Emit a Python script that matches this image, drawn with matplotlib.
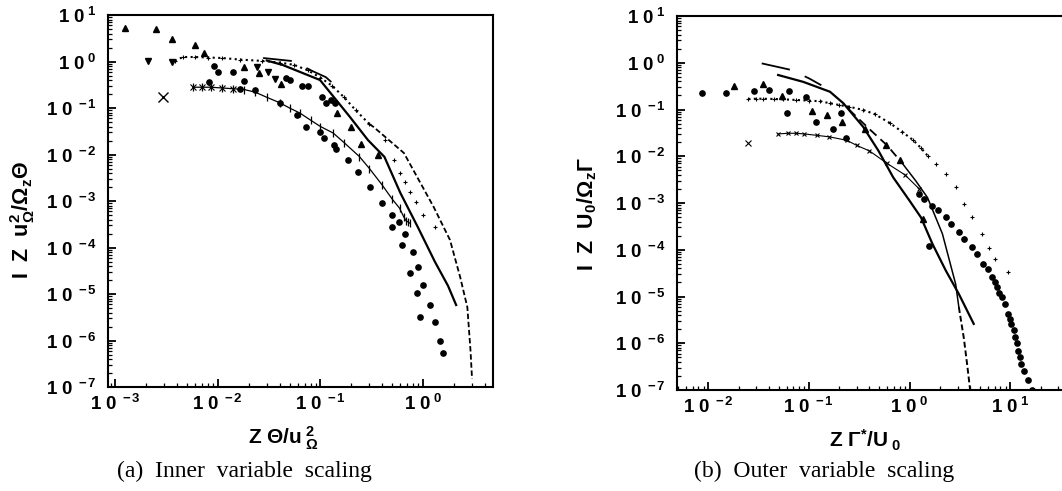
import matplotlib
matplotlib.use("Agg")
import matplotlib.pyplot as plt
from matplotlib.ticker import LogLocator, FuncFormatter, NullFormatter

plt.rcParams["mathtext.fontset"] = "custom"
plt.rcParams["mathtext.rm"] = "Liberation Sans"
plt.rcParams["mathtext.bf"] = "Liberation Sans:bold"
plt.rcParams["mathtext.it"] = "Liberation Sans:italic"
plt.rcParams["font.family"] = ["Liberation Sans", "DejaVu Sans"]

# ---------------- (a) inner variable scaling ----------------
a_tri_up_x = [1.25e-3, 2.5e-3, 3.6e-3, 6.0e-3, 7.4e-3, 0.018, 0.025, 0.041, 0.145, 0.20, 0.25, 0.36]
a_tri_up_y = [5.2, 5.0, 3.0, 2.3, 1.55, 0.76, 0.57, 0.33, 0.078, 0.039, 0.017, 0.0098]
a_tri_dn_x = [2.1e-3, 3.6e-3, 0.024, 0.031, 0.036]
a_tri_dn_y = [1.03, 1.0, 0.76, 0.59, 0.42]
a_circ_x = [8.2e-3, 9.2e-3, 0.010, 0.014, 0.018, 0.046, 0.051, 0.066, 0.076, 0.104, 0.114, 0.128, 0.139]
a_circ_y = [0.36, 0.80, 0.59, 0.59, 0.38, 0.44, 0.40, 0.30, 0.30, 0.17, 0.13, 0.15, 0.13]
a_colA_x = [0.0165, 0.023, 0.040, 0.059, 0.072, 0.099, 0.108, 0.136, 0.142, 0.186, 0.232,
            0.304, 0.398, 0.498, 0.624, 0.745, 0.873, 0.93]
a_colA_y = [0.256, 0.245, 0.128, 0.071, 0.039, 0.031, 0.023, 0.016, 0.0131, 7.6e-3, 4.2e-3,
            2.0e-3, 9.1e-4, 2.8e-4, 1.13e-4, 2.8e-5, 1.05e-5, 3.2e-6]
a_colB_x = [0.50, 0.58, 0.667, 0.80, 0.89, 1.0, 1.17, 1.3, 1.45, 1.55]
a_colB_y = [5.0e-4, 3.5e-4, 2.0e-4, 8.0e-5, 3.8e-5, 1.6e-5, 5.9e-6, 2.5e-6, 1.0e-6, 5.4e-7]
a_xiso_x = [2.9e-3]
a_xiso_y = [0.17]
a_xline_x = [5.7e-3, 7e-3, 8.5e-3, 0.011, 0.014, 0.018, 0.023, 0.030, 0.04, 0.05, 0.063, 0.08,
             0.1, 0.133, 0.17, 0.24, 0.3, 0.4, 0.5, 0.59, 0.65, 0.68, 0.72, 0.75]
a_xline_y = [0.28, 0.28, 0.28, 0.27, 0.26, 0.25, 0.22, 0.17, 0.13, 0.1, 0.078, 0.055,
             0.04, 0.029, 0.018, 9e-3, 5e-3, 2.2e-3, 1.1e-3, 7e-4, 4.5e-4, 3.8e-4, 3.5e-4, 3.3e-4]
a_plus_x = [3.8e-3, 4.6e-3, 6e-3, 8e-3, 0.011, 0.0165, 0.027, 0.04, 0.055, 0.075, 0.1, 0.13,
            0.17, 0.22, 0.3]
a_plus_y = [1.05, 1.25, 1.25, 1.22, 1.19, 1.1, 1.03, 0.95, 0.85, 0.65, 0.45, 0.3,
            0.17, 0.09, 0.045]
a_sparse_x = [0.425, 0.52, 0.6, 0.66, 0.74, 0.85, 1.0, 1.3]
a_sparse_y = [0.0205, 7.6e-3, 4e-3, 2.6e-3, 1.6e-3, 9.6e-4, 5e-4, 2.8e-4]
a_solid_x = [0.03, 0.043, 0.099, 0.194, 0.29, 0.42, 0.6, 0.9, 1.3, 1.75, 2.1]
a_solid_y = [1.05, 0.84, 0.40, 0.064, 0.0205, 8.9e-3, 1.5e-3, 2.6e-4, 5e-5, 1.5e-5, 5.8e-6]
a_dash_x = [0.3, 0.33, 0.65, 1.27, 1.83, 2.3, 2.7, 2.9, 3.0]
a_dash_y = [0.045, 0.039, 0.0108, 7.4e-4, 1.45e-4, 2.3e-5, 5.2e-6, 6e-7, 1.5e-7]
a_long_x = [0.0276, 0.054, 0.084, 0.113, 0.138, 0.166]
a_long_y = [1.19, 1.02, 0.62, 0.46, 0.31, 0.24]

# ---------------- (b) outer variable scaling ----------------
b_circ_x = [8.7e-3, 0.015, 0.0286, 0.040, 0.064, 0.060, 0.093, 0.117, 0.175, 0.21, 0.235, 1.57]
b_circ_y = [0.225, 0.225, 0.25, 0.26, 0.25, 0.084, 0.185, 0.054, 0.038, 0.084, 0.025, 1.2e-4]
b_tri_x = [0.018, 0.035, 0.054, 0.107, 0.15, 0.215, 0.36, 0.58, 0.8, 1.35]
b_tri_y = [0.32, 0.35, 0.19, 0.092, 0.076, 0.054, 0.038, 0.0175, 8.3e-3, 4.5e-4]
b_plus_x = [0.025, 0.03, 0.035, 0.045, 0.055, 0.075, 0.1, 0.13, 0.162, 0.2, 0.25, 0.345,
            0.45, 0.64, 0.85, 1.09, 1.3, 1.51,
            1.83, 2.29, 2.87, 3.46, 4.18, 5.24, 6.1, 7.1, 9.5]
b_plus_y = [0.168, 0.17, 0.17, 0.168, 0.165, 0.16, 0.155, 0.15, 0.136, 0.125, 0.115, 0.098,
            0.08, 0.051, 0.033, 0.022, 0.015, 0.0103,
            6.8e-3, 4.2e-3, 2.16e-3, 9.5e-4, 4.9e-4, 2.2e-4, 1.1e-4, 6.3e-5, 3.3e-5]
b_xiso_x = [0.025]
b_xiso_y = [0.019]
b_xline_x = [0.0495, 0.062, 0.075, 0.09, 0.12, 0.16, 0.237, 0.3, 0.4, 0.6, 0.9, 1.25]
b_xline_y = [0.030, 0.031, 0.031, 0.03, 0.028, 0.026, 0.022, 0.017, 0.013, 7e-3, 4e-3, 2.0e-3]
b_dots_x = [1.25, 1.69, 2.29, 3.09, 4.18, 5.4, 6.6, 7.35, 8.2, 9.5, 10.3, 11.1, 12.0, 12.9, 15.0,
            1.4, 1.9, 2.6, 3.5, 4.7, 6.0, 7.0, 7.8, 8.8, 10.0, 10.8, 11.6, 12.5, 13.8, 16.5]
b_dots_y = [1.55e-3, 8.8e-4, 4.9e-4, 2.4e-4, 1.13e-4, 5e-5, 2.6e-5, 1.57e-5, 9.6e-6, 4.2e-6,
            2.6e-6, 1.34e-6, 6.9e-7, 3.6e-7, 1.6e-7,
            1.2e-3, 7e-4, 3.6e-4, 1.7e-4, 8e-5, 3.8e-5, 2.0e-5, 1.2e-5, 7e-6, 3.3e-6,
            1.9e-6, 1.0e-6, 5e-7, 2.5e-7, 1.0e-7]
b_lineA_x = [0.0495, 0.088, 0.162, 0.22, 0.345, 0.49, 0.69, 1.0, 1.3, 1.69, 2.29, 3.09, 4.34]
b_lineA_y = [0.547, 0.39, 0.24, 0.136, 0.043, 0.0132, 3.5e-3, 1.12e-3, 4.9e-4, 1.33e-4,
             3.6e-5, 1.13e-5, 2.6e-6]
b_lineB_x = [0.25, 0.4, 0.6, 0.85, 1.15, 1.51, 2.12, 2.87, 3.09]
b_lineB_y = [0.10, 0.038, 0.017, 7e-3, 3e-3, 1.3e-3, 2.2e-4, 1.85e-5, 5.9e-6]
b_tail_x = [3.09, 3.46, 3.73, 4.0]
b_tail_y = [5.9e-6, 1.3e-6, 3.6e-7, 1e-7]
b_long_x = [0.034, 0.067, 0.101, 0.133]
b_long_y = [0.97, 0.70, 0.46, 0.33]

K = "black"


def fmt(v, pos):
    import math
    e = int(round(math.log10(v)))
    return r"$\mathbf{1\ 0^{\ %d}}$" % e


def style(ax, xlim):
    ax.set_xscale("log")
    ax.set_yscale("log")
    ax.set_xlim(*xlim)
    ax.set_ylim(1e-7, 1e1)
    ax.xaxis.set_major_locator(LogLocator(base=10, numticks=20))
    ax.yaxis.set_major_locator(LogLocator(base=10, numticks=20))
    ax.xaxis.set_minor_locator(LogLocator(base=10, subs=range(2, 10), numticks=100))
    ax.yaxis.set_minor_locator(LogLocator(base=10, subs=range(2, 10), numticks=100))
    ax.xaxis.set_major_formatter(FuncFormatter(fmt))
    ax.yaxis.set_major_formatter(FuncFormatter(fmt))
    ax.xaxis.set_minor_formatter(NullFormatter())
    ax.yaxis.set_minor_formatter(NullFormatter())
    ax.tick_params(which="major", direction="in", length=6, width=1.3, labelsize=13.5)
    ax.tick_params(axis="y", which="major", pad=8)
    ax.tick_params(axis="x", which="major", pad=5)
    ax.tick_params(which="minor", direction="in", length=3, width=0.9)
    for s in ax.spines.values():
        s.set_linewidth(1.5)


fig = plt.figure(figsize=(10.62, 4.91), dpi=100)
ax1 = fig.add_axes([0.1017, 0.2118, 0.3625, 0.7576])
ax2 = fig.add_axes([0.6375, 0.2057, 0.3653, 0.7617])

# panel (a)
ax = ax1
ax.plot(a_tri_up_x, a_tri_up_y, "^", color=K, ms=4)
ax.plot(a_tri_dn_x, a_tri_dn_y, "v", color=K, ms=4)
ax.plot(a_circ_x, a_circ_y, "o", color=K, ms=3.8)
ax.plot(a_colA_x, a_colA_y, "o", color=K, ms=3.8)
ax.plot(a_colB_x, a_colB_y, "o", color=K, ms=3.8)
ax.plot(a_xiso_x, a_xiso_y, "x", color=K, ms=7, mew=1)
ax.plot(a_xline_x[:5], a_xline_y[:5], "x", color=K, ms=5, mew=0.8)
ax.plot(a_xline_x, a_xline_y, "-", color=K, lw=0.9, marker="|", ms=6, mew=0.9)
ax.plot(a_plus_x, a_plus_y, ":", color=K, lw=1.5, marker="+", ms=3, mew=0.8)
ax.plot(a_sparse_x, a_sparse_y, "+", color=K, ms=3.5, mew=0.8)
ax.plot(a_solid_x, a_solid_y, "-", color=K, lw=1.6)
ax.plot(a_dash_x, a_dash_y, "--", color=K, lw=1.3, dashes=(3, 1.5))
ax.plot(a_long_x, a_long_y, "-", color=K, lw=1.3, dashes=(16, 9))
style(ax, (8.5e-4, 4.8))
ax.set_xlabel(r"$\mathbf{Z\ \Theta/u_{\ \Omega}^{\ 2}}$", fontsize=15)
ax.set_ylabel(r"$\mathbf{I\ \ Z\ \ u_{\Omega}^{2}/\Omega_{z}\Theta}$", fontsize=15.5)
ax.xaxis.set_label_coords(0.455, -0.1)
ax.yaxis.set_label_coords(-0.185, 0.45)

# panel (b)
ax = ax2
ax.plot(b_circ_x, b_circ_y, "o", color=K, ms=3.8)
ax.plot(b_tri_x, b_tri_y, "^", color=K, ms=4)
ax.plot(b_plus_x[:18], b_plus_y[:18], ":", color=K, lw=1.5)
ax.plot(b_plus_x, b_plus_y, "+", color=K, ms=3.5, mew=0.8)
ax.plot(b_xiso_x, b_xiso_y, "x", color=K, ms=4, mew=0.8)
ax.plot(b_xline_x, b_xline_y, "-", color=K, lw=0.8, marker="x", ms=3.5, mew=0.8)
ax.plot(b_dots_x, b_dots_y, "o", color=K, ms=3.8)
ax.plot(b_lineA_x, b_lineA_y, "-", color=K, lw=1.6)
ax.plot(b_lineB_x[:4], b_lineB_y[:4], "-", color=K, lw=1.3, dashes=(5, 3))
ax.plot(b_lineB_x[3:], b_lineB_y[3:], "-", color=K, lw=1.1)
ax.plot(b_tail_x, b_tail_y, "--", color=K, lw=1.4, dashes=(3, 1.5))
ax.plot(b_long_x, b_long_y, "-", color=K, lw=1.3, dashes=(16, 9))
style(ax, (4.9e-3, 35))
ax.set_xlabel(r"$\mathbf{Z\ \Gamma^{*}/U_{\ 0}}$", fontsize=15)
ax.set_ylabel(r"$\mathbf{I\ \ Z\ \ U_{0}/\Omega_{z}\Gamma}$", fontsize=15.5)
ax.xaxis.set_label_coords(0.486, -0.1)
ax.yaxis.set_label_coords(-0.2, 0.47)

fig.text(0.23, 0.039, "(a)  Inner  variable  scaling", ha="center", va="center",
         family="Liberation Serif", fontsize=17)
fig.text(0.776, 0.039, "(b)  Outer  variable  scaling", ha="center", va="center",
         family="Liberation Serif", fontsize=17)

fig.savefig("out.png", dpi=100)
